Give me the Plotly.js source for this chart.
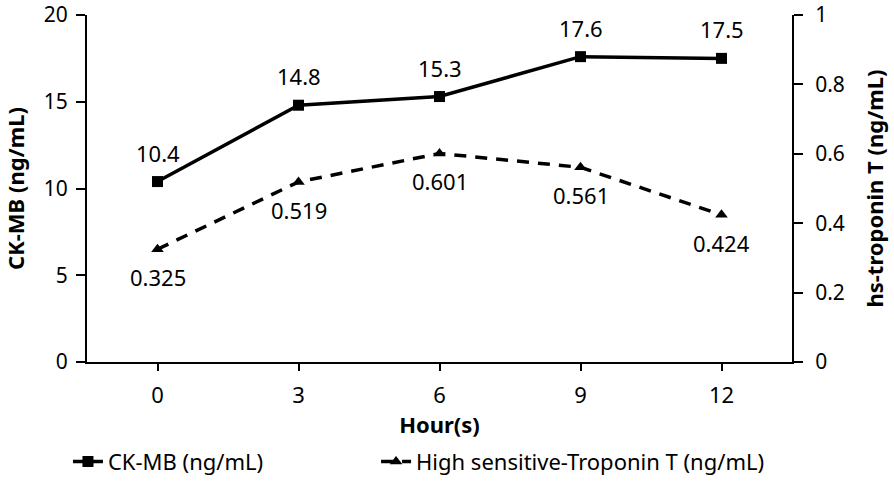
<!DOCTYPE html>
<html><head><meta charset="utf-8">
<script src="https://cdn.plot.ly/plotly-3.0.1.min.js"></script>
<style>html,body{margin:0;padding:0;background:#fff}#chart{width:894px;height:481px}</style>
</head><body><div id="chart"></div>
<script>
const hours = [0, 3, 6, 9, 12];
const ckmb = [10.4, 14.8, 15.3, 17.6, 17.5];
const troponin = [0.325, 0.519, 0.601, 0.561, 0.424];
const ckmbLabels = ['10.4', '14.8', '15.3', '17.6', '17.5'];
const tropLabels = ['0.325', '0.519', '0.601', '0.561', '0.424'];
const leftTicks = [0, 5, 10, 15, 20];
const rightTicks = [0, 0.2, 0.4, 0.6, 0.8, 1];
const rightTickText = ['0', '0.2', '0.4', '0.6', '0.8', '1'];

const FONT = 'Noto Sans, DejaVu Sans, sans-serif';
const FS = 22;
const TFS = 21;
const traces = [
  {x: hours, y: ckmb, name: 'CK-MB (ng/mL)', type: 'scatter', mode: 'lines+markers', legend: 'legend',
   line: {color: '#000', width: 3.5}, marker: {symbol: 'square', size: 11, color: '#000'},
   cliponaxis: false},
  {x: hours, y: troponin, name: 'High sensitive-Troponin T (ng/mL)', type: 'scatter', mode: 'lines+markers',
   yaxis: 'y2', legend: 'legend2',
   line: {color: '#000', width: 3.5, dash: '12px,9px'}, marker: {symbol: 'triangle-up', size: 11, color: '#000'},
   cliponaxis: false}
];
const annotations = [];
hours.forEach((h, i) => {
  annotations.push({x: h, y: ckmb[i], xref: 'x', yref: 'y', text: ckmbLabels[i], showarrow: false,
    yshift: 29, font: {size: FS, family: FONT, color: '#000'}});
  annotations.push({x: h, y: troponin[i], xref: 'x', yref: 'y2', text: tropLabels[i], showarrow: false,
    yshift: -28, font: {size: FS, family: FONT, color: '#000'}});
});
const legendBase = {orientation: 'h', yref: 'container', y: 0.04, xanchor: 'left', yanchor: 'middle',
  itemwidth: 30, bgcolor: 'rgba(0,0,0,0)', font: {size: FS, family: FONT, color: '#000'}};
const layout = {
  width: 894, height: 481,
  margin: {l: 87, r: 102, t: 15, b: 119, autoexpand: false},
  paper_bgcolor: '#fff', plot_bgcolor: '#fff',
  font: {family: FONT, size: FS, color: '#000'},
  showlegend: true,
  annotations: annotations,
  legend: Object.assign({}, legendBase, {x: -0.027}),
  legend2: Object.assign({}, legendBase, {x: 0.41}),
  xaxis: {range: [-1.5, 13.5], tickvals: hours, ticktext: hours.map(String),
          showline: true, linecolor: '#000', linewidth: 2, showgrid: false, zeroline: false,
          ticks: 'outside', ticklen: 7, tickwidth: 2, tickcolor: '#000', ticklabelstandoff: 6,
          tickfont: {size: FS}, automargin: false,
          title: {text: '<b>Hour(s)</b>', font: {size: FS}, standoff: 2}},
  yaxis: {range: [0, 20], tickvals: leftTicks, showline: true, linecolor: '#000', linewidth: 2,
          showgrid: false, zeroline: false, ticks: 'outside', ticklen: 9, tickwidth: 2, tickcolor: '#000',
          tickfont: {size: TFS}, ticklabeloverflow: 'allow', ticklabelstandoff: 4, automargin: false,
          title: {text: '<b>CK-MB (ng/mL)</b>', font: {size: FS}, standoff: 14}},
  yaxis2: {range: [0, 1], tickvals: rightTicks, ticktext: rightTickText, overlaying: 'y', side: 'right',
           showline: true, linecolor: '#000', linewidth: 2, showgrid: false, zeroline: false,
           ticks: 'outside', ticklen: 9, tickwidth: 2, tickcolor: '#000', tickfont: {size: TFS},
           ticklabeloverflow: 'allow', ticklabelstandoff: 8, automargin: false,
           title: {text: '<b>hs-troponin T (ng/mL)</b>', font: {size: FS}, standoff: 24}}
};
Plotly.newPlot('chart', traces, layout, {displayModeBar: false, staticPlot: true});
</script></body></html>
